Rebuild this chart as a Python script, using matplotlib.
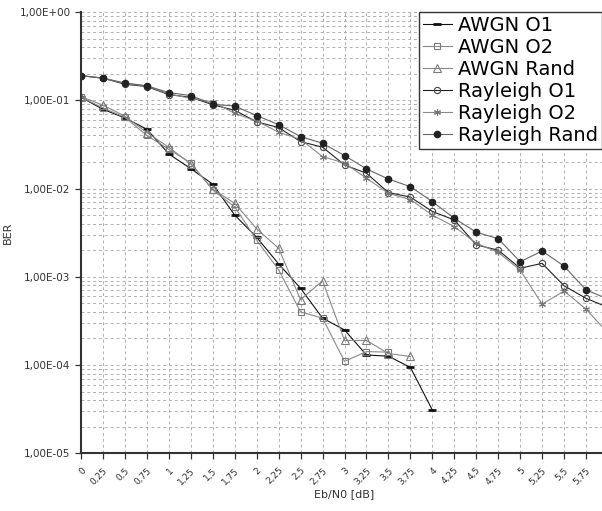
import matplotlib.pyplot as plt
from matplotlib.ticker import FixedLocator, LogLocator, FuncFormatter, NullFormatter

# Eb/N0 em passos de 0,25 dB
ebn0 = [i * 0.25 for i in range(25)]

awgn_o1 = [0.108, 0.079, 0.063, 0.047, 0.0246, 0.0168, 0.0112, 0.0050, 0.0028,
           0.0014, 0.00074, 0.00034, 0.00025, 0.00013, 0.000126, 0.000094, 0.000031]
awgn_o2 = [0.108, 0.082, 0.064, 0.040, 0.0278, 0.0195, 0.0096, 0.0062, 0.0026,
           0.0012, 0.00040, 0.00034, 0.00011, 0.000142, 0.000140]
awgn_rand = [0.110, 0.088, 0.066, 0.043, 0.0293, 0.019, 0.0098, 0.0068, 0.0035,
             0.0021, 0.00055, 0.00090, 0.00019, 0.00019, 0.000135, 0.000125]
ray_o1 = [0.19, 0.178, 0.152, 0.143, 0.116, 0.108, 0.089, 0.077, 0.057, 0.049,
          0.034, 0.0294, 0.0185, 0.0149, 0.0090, 0.0080, 0.0055, 0.0044, 0.0023,
          0.0020, 0.00125, 0.00142, 0.00079, 0.00057, 0.00045]
ray_o2 = [0.19, 0.178, 0.155, 0.145, 0.118, 0.105, 0.096, 0.071, 0.058, 0.0435,
          0.036, 0.023, 0.0194, 0.0131, 0.0088, 0.0075, 0.0050, 0.0037, 0.0024,
          0.00189, 0.00119, 0.00049, 0.00069, 0.00043, 0.00023]
ray_rand = [0.19, 0.178, 0.157, 0.146, 0.122, 0.113, 0.090, 0.086, 0.067, 0.053,
            0.0387, 0.0326, 0.0236, 0.0167, 0.0128, 0.0105, 0.0071, 0.0046, 0.0032,
            0.0027, 0.00148, 0.00196, 0.00132, 0.00071, 0.00056]

labels = ["AWGN O1", "AWGN O2", "AWGN Rand", "Rayleigh O1", "Rayleigh O2", "Rayleigh Rand"]

W, H = 602, 511
fig = plt.figure(figsize=(W / 100, H / 100), dpi=100)
# o eixo passa um pouco da borda direita, como no original (recortado)
ax = fig.add_axes([81 / W, (H - 453.3) / H, (608 - 81) / W, (453.3 - 12) / H])

lw = 0.8
ax.plot(ebn0[:len(awgn_o1)], awgn_o1, color='#111111', lw=lw, marker='_',
        ms=6, mew=2.0, label=labels[0])
ax.plot(ebn0[:len(awgn_o2)], awgn_o2, color='#8a8a8a', lw=lw, marker='s',
        ms=4.5, mfc='none', mec='#7a7a7a', mew=0.8, label=labels[1])
ax.plot(ebn0[:len(awgn_rand)], awgn_rand, color='#8a8a8a', lw=lw, marker='^',
        ms=5.5, mfc='none', mec='#7a7a7a', mew=0.8, label=labels[2])
ax.plot(ebn0, ray_o1, color='#222222', lw=lw, marker='o',
        ms=4.5, mfc='none', mec='#444444', mew=0.8, label=labels[3])
ax.plot(ebn0, ray_o2, color='#8a8a8a', lw=lw, marker=(6, 2, 0),
        ms=5, mec='#777777', mew=0.8, label=labels[4])
ax.plot(ebn0, ray_rand, color='#666666', lw=lw, marker='o',
        ms=4.5, mfc='#222222', mec='#222222', label=labels[5])

ax.set_yscale('log')
ax.set_ylim(1e-5, 1)
ax.set_xlim(0, 6)

ax.xaxis.set_major_locator(FixedLocator(ebn0))
ax.xaxis.set_major_formatter(FuncFormatter(lambda v, p: f"{v:g}".replace('.', ',')))
ax.yaxis.set_major_locator(LogLocator(base=10))
ax.yaxis.set_minor_locator(LogLocator(base=10, subs=range(2, 10)))
ax.yaxis.set_minor_formatter(NullFormatter())
ax.yaxis.set_major_formatter(FuncFormatter(lambda v, p: f"{v:.2E}".replace('.', ',')))

ax.tick_params(axis='both', which='major', labelsize=7.5, colors='#333333',
               length=4, width=0.9, direction='out')
ax.tick_params(axis='x', labelsize=6.5, pad=5)
ax.tick_params(axis='y', which='minor', length=0)

for lab in ax.get_xticklabels():
    lab.set_rotation(45)
    lab.set_ha('right')
    lab.set_rotation_mode('anchor')

ax.grid(True, which='both', axis='both', color='#b0b0b0', lw=0.7,
        linestyle=(0, (3, 3)))

for s in ['top', 'right']:
    ax.spines[s].set_visible(False)
for s in ['left', 'bottom']:
    ax.spines[s].set_color('#333333')
    ax.spines[s].set_linewidth(1.5)

ax.set_xlabel("Eb/N0 [dB]", fontsize=8, color='#333333', labelpad=2)
ax.set_ylabel("BER", fontsize=8, color='#333333')
ax.yaxis.set_label_coords(-68 / 527, 0.5)

leg = fig.legend(loc='upper right', bbox_to_anchor=(601.5 / W, 1 - 11.7 / H),
                 borderaxespad=0, fontsize=14, frameon=True, fancybox=False,
                 edgecolor='#333333', labelspacing=0.16, handlelength=1.5,
                 handletextpad=0.3, borderpad=0.2, framealpha=1)
leg.get_frame().set_linewidth(1.0)

fig.savefig("out.png", dpi=100)
